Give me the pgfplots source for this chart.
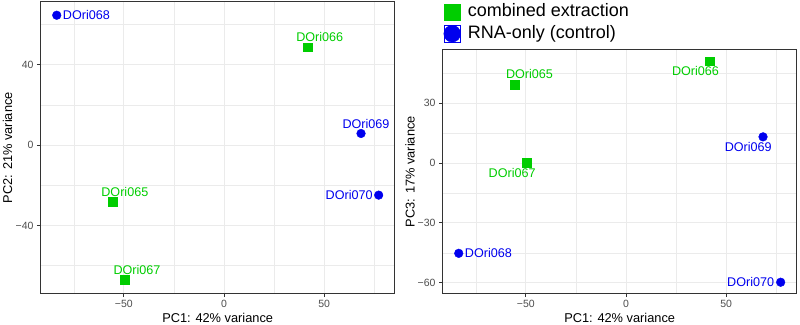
\documentclass[border=0pt]{standalone}
\usepackage{fontspec}
\setmainfont{Liberation Sans}
\usepackage{pgfplots}
\pgfplotsset{compat=1.18}
\usepackage{pgfplotstable}

\definecolor{grpgreen}{HTML}{00CD00}
\definecolor{grpblue}{HTML}{0000EE}
\definecolor{framegray}{HTML}{333333}
\definecolor{ticktext}{HTML}{4D4D4D}
\definecolor{gridgray}{HTML}{EBEBEB}

% PCA scores; dxa/dya and dxb/dyb place each sample label (pt) in the
% PC1-PC2 and PC1-PC3 panels
\pgfplotstableread{
pc1    pc2    pc3   label    dxa   dya   dxb    dyb
-55.5  -28.2  39.5  DOri065  12.0  9.6   14.7   10
 41.7   48.8  51.2  DOri066  12.2  10   -14.0  -10
-49.5  -67.2   0.3  DOri067  12.2  10   -14.7  -10
}\combined
\pgfplotstableread{
pc1    pc2    pc3    label    dxa    dya  dxb    dyb
-83.5   64.7  -45.2  DOri068  29.7   0    29.7   0
 68.4    5.8   13.2  DOri069   5.0   9.7 -14.8  -10
 77.2  -24.9  -59.7  DOri070 -29.5   0   -30.0   0
}\control

\pgfplotsset{
  pcapanel/.style={
    scale only axis,
    width=354pt,
    xmin=-91.5, xmax=85.2,
    xtick={-50,0,50},
    xticklabels={−50,0,50},
    minor xtick={-75,-25,25,75},
    grid=both,
    major grid style={gridgray, line width=1pt},
    minor grid style={gridgray, line width=0.5pt},
    axis line style={framegray, line width=1pt},
    tick align=outside,
    xtick pos=bottom, ytick pos=left,
    major tick length=3.7pt,
    minor tick length=0pt,
    tick style={framegray, line width=1pt},
    ticklabel style={font=\fontsize{10.5}{12}\selectfont, text=ticktext},
    every axis y label/.style={rotate=90, anchor=center,
      font=\fontsize{12.8}{15}\selectfont},
    every axis x label/.style={anchor=base,
      font=\fontsize{12.8}{15}\selectfont},
  },
  combinedmarks/.style={only marks, mark=square*, mark size=4.35pt,
    grpgreen, mark options={draw=none, fill=grpgreen},
    legend image code/.code={%
      \fill[grpgreen] (-8.2pt,-8.2pt) rectangle (8.2pt,8.2pt);}},
  controlmarks/.style={only marks, mark=*, mark size=4.35pt,
    grpblue, mark options={draw=none, fill=grpblue},
    legend image code/.code={%
      \path (-8.2pt,-8.2pt) rectangle (8.2pt,8.2pt);
      \fill[grpblue] (0pt,0pt) circle[radius=8.4pt];}},
  samplelabels/.style={
    forget plot, only marks, mark=none,
    nodes near coords,
    point meta=explicit symbolic,
    every node near coord/.append style={anchor=center, inner sep=0pt,
      xshift=\lblx pt, yshift=\lbly pt, text=#1,
      font=\fontsize{12.6}{15}\selectfont},
  },
}

\begin{document}
\begin{tikzpicture}
\useasboundingbox (0,0) rectangle (800pt,324pt);

% PC1 vs PC2
\begin{axis}[pcapanel,
  at={(40.7pt,30.7pt)}, anchor=south west,
  height=291.3pt,
  ymin=-73.8, ymax=71.3,
  ytick={-40,0,40},
  yticklabels={−40,0,40},
  minor ytick={-60,-20,20,60},
  xlabel={PC1: 42\% variance},
  ylabel={PC2: 21\% variance},
  x label style={at={(axis description cs:0.5,-0.0999)}},
  y label style={at={(axis description cs:-0.094,0.5)}},
]
\addplot[combinedmarks] table[x=pc1, y=pc2] {\combined};
\addplot[controlmarks] table[x=pc1, y=pc2] {\control};
\addplot[samplelabels=grpgreen,
  visualization depends on={\thisrow{dxa}\as\lblx},
  visualization depends on={\thisrow{dya}\as\lbly},
] table[x=pc1, y=pc2, meta=label] {\combined};
\addplot[samplelabels=grpblue,
  visualization depends on={\thisrow{dxa}\as\lblx},
  visualization depends on={\thisrow{dya}\as\lbly},
] table[x=pc1, y=pc2, meta=label] {\control};
\end{axis}

% PC1 vs PC3, carrying the group legend above it
\begin{axis}[pcapanel,
  at={(442.7pt,30.7pt)}, anchor=south west,
  height=243.3pt,
  ymin=-65.25, ymax=56.75,
  ytick={-60,-30,0,30},
  yticklabels={−60,−30,0,30},
  minor ytick={-45,-15,15,45},
  xlabel={PC1: 42\% variance},
  ylabel={PC3: 17\% variance},
  x label style={at={(axis description cs:0.5,-0.1196)}},
  y label style={at={(axis description cs:-0.092,0.5)}},
  legend cell align=left,
  legend style={at={(axis description cs:0.002,1)}, anchor=south west,
    yshift=7.5pt, draw=none, inner sep=0pt,
    row sep=4.5pt, column sep=0pt,
    font=\fontsize{18}{21}\selectfont,
    nodes={inner sep=0pt, text height=13pt, text depth=4pt}},
]
\addplot[combinedmarks] table[x=pc1, y=pc3] {\combined};
\addlegendentry{\hspace{7pt}combined extraction}
\addplot[controlmarks] table[x=pc1, y=pc3] {\control};
\addlegendentry{\hspace{7pt}RNA-only (control)}
\addplot[samplelabels=grpgreen,
  visualization depends on={\thisrow{dxb}\as\lblx},
  visualization depends on={\thisrow{dyb}\as\lbly},
] table[x=pc1, y=pc3, meta=label] {\combined};
\addplot[samplelabels=grpblue,
  visualization depends on={\thisrow{dxb}\as\lblx},
  visualization depends on={\thisrow{dyb}\as\lbly},
] table[x=pc1, y=pc3, meta=label] {\control};
\end{axis}
\end{tikzpicture}
\end{document}
